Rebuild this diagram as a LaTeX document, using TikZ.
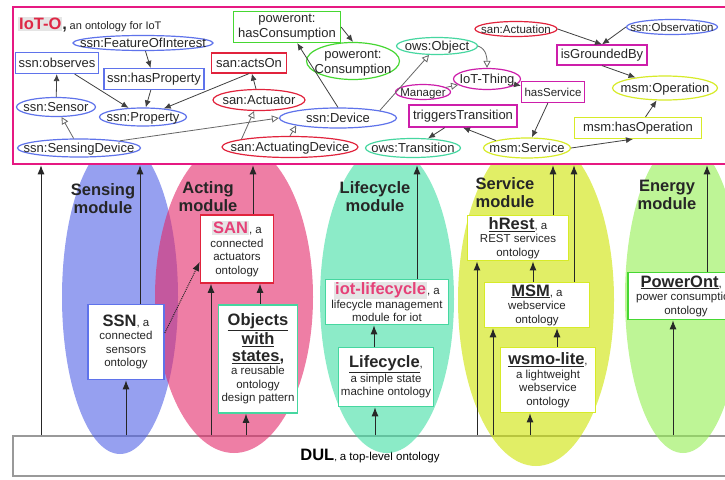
\documentclass[tikz,border=0pt]{standalone}
\usepackage{fontspec}
\setmainfont{Liberation Sans}
\usetikzlibrary{arrows.meta}
\usetikzlibrary{shapes.geometric}
\definecolor{ssnc}{RGB}{95,115,235}
\definecolor{sanc}{RGB}{225,35,60}
\definecolor{pwrc}{RGB}{70,215,50}
\definecolor{owsc}{RGB}{70,215,160}
\definecolor{iotc}{RGB}{205,30,170}
\definecolor{msmc}{RGB}{215,235,40}
\definecolor{framec}{RGB}{230,25,130}
\definecolor{titlec}{RGB}{222,40,70}
\definecolor{namec}{RGB}{230,65,120}
\definecolor{sensingc}{RGB}{80,97,230}
\definecolor{actingc}{RGB}{227,40,105}
\definecolor{lifec}{RGB}{63,222,163}
\definecolor{servc}{RGB}{205,227,0}
\definecolor{energyc}{RGB}{147,238,80}
\newcommand\elltext[1]{\makebox[0pt]{\raisebox{-.35em}[0pt][0pt]{#1}}}
\newcommand\bigname[1]{{\fontsize{16.5}{18}\selectfont\bfseries #1}}
\newcommand\ulname[1]{\underline{\bigname{#1}}}
\newcommand\hiname[2]{{\setlength\fboxsep{1pt}\colorbox{black!10}{\textcolor{#1}{\bigname{#2}}}}}
\begin{document}
\begin{tikzpicture}[x=1pt,y=-1pt,
	enode/.style={ellipse,draw,line width=1.2pt,fill=white,inner sep=0pt,minimum height=19pt,font=\fontsize{13}{15}\selectfont,text=black!85},
	rnode/.style={rectangle,draw,line width=1.2pt,fill=white,inner xsep=3pt,inner ysep=2pt,minimum height=21pt,font=\fontsize{13}{15}\selectfont,text=black!85},
	smallfont/.style={font=\fontsize{11.5}{13}\selectfont},
	has/.style={-{Latex[length=7pt,width=6pt]},draw=black!75,line width=0.8pt},
	isa/.style={-{Triangle[open,length=7pt,width=7pt]},draw=black!60,line width=0.8pt},
	up/.style={-{Latex[length=9pt,width=7pt]},draw=black!85,line width=1pt},
	onto/.style={draw,fill=white,line width=1.6pt,align=center,inner sep=2pt,font=\fontsize{11.5}{13.5}\selectfont,text=black!85},
	module/.style={align=center,font=\fontsize{16.5}{18}\selectfont\bfseries,text=black!85}]
	\useasboundingbox (0,0) rectangle (725,479);
	\clip (0,0) rectangle (725,479);
	
	\node[draw=black!40,fill=white,line width=1.5pt,minimum width=714pt,minimum height=40pt,inner sep=0pt] (dul) at (370,456) {\bigname{DUL}, {\fontsize{11.5}{13}\selectfont a top-level ontology}};
	
	\fill[sensingc,opacity=.6] (120,297) ellipse [x radius=58pt,y radius=157pt];
	\fill[actingc,opacity=.6] (234,297) ellipse [x radius=79pt,y radius=156pt];
	\fill[lifec,opacity=.6] (387,299) ellipse [x radius=67pt,y radius=154pt];
	\fill[servc,opacity=.6] (536,300) ellipse [x radius=78pt,y radius=166pt];
	\fill[energyc,opacity=.6] (683,297) ellipse [x radius=58pt,y radius=156pt];
	
	\node[draw=framec,fill=white,line width=2.5pt,minimum width=714pt,minimum height=157pt,inner sep=0pt] (ioto) at (370,85.5) {};
	\node[anchor=west,inner sep=0pt,text=black!85] (title) at (18,25) {\hiname{titlec}{IoT-O}\bigname{,} {\fontsize{11}{13}\selectfont an ontology for IoT}};
	
	\node[enode,draw=ssnc,minimum width=140pt,minimum height=15pt] (foi) at (143,43) {\elltext{ssn:FeatureOfInterest}};
	\node[rnode,draw=ssnc,minimum width=83pt] (observes) at (57,63) {ssn:observes};
	\node[rnode,draw=ssnc,minimum width=99pt] (hasprop) at (154,79) {ssn:hasProperty};
	\node[enode,draw=ssnc,minimum width=79pt] (sensor) at (56,107) {\elltext{ssn:Sensor}};
	\node[enode,draw=ssnc,minimum width=87pt,minimum height=18pt] (prop) at (143,117) {\elltext{ssn:Property}};
	\node[enode,draw=ssnc,minimum width=123pt,minimum height=18pt] (sdev) at (79,148) {\elltext{ssn:SensingDevice}};
	\node[rnode,draw=pwrc,minimum width=107pt,minimum height=31pt,align=center,inner ysep=1pt] (hascons) at (287,27) {poweront:\\hasConsumption};
	\node[enode,draw=pwrc,minimum width=93pt,minimum height=37pt] (cons) at (353,61) {\elltext{\begin{tabular}{@{}c@{}}poweront:\\Consumption\end{tabular}}};
	\node[rnode,draw=sanc,minimum width=75pt,minimum height=20pt] (actson) at (249,63) {san:actsOn};
	\node[enode,draw=sanc,minimum width=92pt,minimum height=21pt] (actuator) at (259,100) {\elltext{san:Actuator}};
	\node[enode,draw=ssnc,minimum width=117pt,minimum height=20pt] (device) at (338,118) {\elltext{ssn:Device}};
	\node[enode,draw=sanc,minimum width=136pt,minimum height=21pt] (adev) at (290,147) {\elltext{san:ActuatingDevice}};
	\node[enode,draw=owsc,minimum width=81pt,minimum height=17pt] (owsobj) at (437,46) {\elltext{ows:Object}};
	\node[enode,draw=iotc,smallfont,minimum width=55pt,minimum height=15pt] (manager) at (423,92) {\elltext{Manager}};
	\node[enode,draw=iotc,minimum width=67pt,minimum height=21pt] (iot) at (487,79) {\elltext{IoT-Thing}};
	\node[rnode,draw=iotc,minimum width=108pt,minimum height=22pt] (trig) at (463,116) {triggersTransition};
	\node[enode,draw=owsc,minimum width=95pt] (owstr) at (413,148) {\elltext{ows:Transition}};
	\node[rnode,draw=iotc,smallfont,minimum width=60pt] (hasserv) at (553,92) {hasService};
	\node[enode,draw=sanc,smallfont,minimum width=82pt,minimum height=15pt] (actuation) at (516,29) {\elltext{san:Actuation}};
	\node[enode,draw=ssnc,smallfont,minimum width=91pt,minimum height=15pt] (obs) at (672,27) {\elltext{ssn:Observation}};
	\node[rnode,draw=iotc,minimum width=90pt,minimum height=20pt] (isgr) at (602,55) {isGroundedBy};
	\node[enode,draw=msmc,minimum width=105pt,minimum height=24pt] (op) at (665,88) {\elltext{msm:Operation}};
	\node[rnode,draw=msmc,minimum width=127pt] (hasop) at (638,128) {msm:hasOperation};
	\node[enode,draw=msmc,minimum width=87pt,minimum height=20pt] (service) at (527,148) {\elltext{msm:Service}};
	
	\draw[has] (foi) -- (hasprop);
	\draw[has] (hasprop) -- (prop);
	\draw[has] (observes) -- (prop);
	\draw[has] (sensor) -- (observes);
	\draw[isa] (sdev) -- (sensor);
	\draw[isa] (sdev.10) -- (device.west);
	\draw[has] (actuator) -- (actson);
	\draw[has] (actson.south) -- (prop);
	\draw[isa] (adev.north west) -- (actuator);
	\draw[isa] (adev.north) -- (device.south west);
	\draw[has] (device.north) -- (hascons);
	\draw[has] (hascons.east) -- (cons.north);
	\draw[isa] (device.north east) -- (owsobj);
	\draw[isa] (owsobj.east) to[out=-20,in=90] (iot.north);
	\draw[isa] (manager) -- (iot);
	\draw[has] (iot) -- (hasserv);
	\draw[has] (hasserv) -- (service);
	\draw[has] (service.north west) -- (trig.south);
	\draw[has] (trig) -- (owstr);
	\draw[has] (service.east) -- ([xshift=-5pt]hasop.south);
	\draw[has] (hasop) -- (op);
	\draw[has] (actuation.east) -- (isgr.north);
	\draw[has] (obs.west) -- (isgr.north);
	\draw[has] (isgr.south) -- (op);
	
	\node[module] (sensing) at (103,199) {Sensing\\module};
	\node[module] (acting) at (208,197) {Acting\\module};
	\node[module] (lifecycle) at (375,197) {Lifecycle\\module};
	\node[module] (servmod) at (505,193) {Service\\module};
	\node[module] (energy) at (667,195) {Energy\\module};
	
	\node[onto,draw=ssnc,minimum width=76pt,minimum height=75pt] (ssn) at (126,342) {\bigname{SSN}, a\\connected\\sensors\\ontology};
	\node[onto,draw=sanc,minimum width=73pt,minimum height=68pt] (san) at (237,249) {\hiname{namec}{SAN}, a\\connected\\actuators\\ontology};
	\node[onto,draw=owsc,minimum width=79pt,minimum height=108pt] (objs) at (258,359) {\ulname{Objects}\\[1pt]\ulname{with}\\[3pt]\ulname{states}\bigname{,}\\a reusable\\ontology\\design pattern};
	\node[onto,draw=owsc,minimum width=123pt,minimum height=45pt] (iotlc) at (387,302) {\hiname{namec}{iot-lifecycle}, a\\lifecycle management\\module for iot};
	\node[onto,draw=owsc,minimum width=95pt,minimum height=59pt] (lc) at (386,377) {\ulname{Lifecycle},\\a simple state\\machine ontology};
	\node[onto,draw=msmc,minimum width=101pt,minimum height=43pt] (hrest) at (518,238) {\ulname{hRest}, a\\REST services\\ontology};
	\node[onto,draw=msmc,minimum width=105pt,minimum height=44pt] (msm) at (537,305) {\ulname{MSM}, a\\webservice\\ontology};
	\node[onto,draw=msmc,minimum width=95pt,minimum height=65pt] (wsmo) at (548,380) {\ulname{wsmo-lite},\\a lightweight\\webservice\\ontology};
	\node[onto,draw=pwrc,minimum width=116pt,minimum height=47pt] (pwr) at (686,296) {\ulname{PowerOnt}, a\\power consumption\\ontology};
	
	\draw[up] (dul.north -| 41,0) -- (ioto.south -| 41,0);
	\draw[up] (ssn.north -| 140,0) -- (ioto.south -| 140,0);
	\draw[up] (dul.north -| ssn.south) -- (ssn.south);
	\draw[up,densely dotted] ([yshift=9pt]ssn.east) -- ([yshift=-13pt]san.west);
	\draw[up] (san.north -| 253,0) -- (ioto.south -| 253,0);
	\draw[up] (dul.north -| 211,0) -- (san.south -| 211,0);
	\draw[up] (objs.north -| 260,0) -- (san.south -| 260,0);
	\draw[up] (dul.north -| 246,0) -- (objs.south -| 246,0);
	\draw[up] (iotlc.north -| 417,0) -- (ioto.south -| 417,0);
	\draw[up] (lc.north -| 374,0) -- (iotlc.south -| 374,0);
	\draw[up] (dul.north -| 375,0) -- (lc.south -| 375,0);
	\draw[up] (hrest.north -| 553,0) -- (ioto.south -| 553,0);
	\draw[up] (msm.north -| 574,0) -- (ioto.south -| 574,0);
	\draw[up] (dul.north -| 477,0) -- (hrest.south -| 477,0);
	\draw[up] (dul.north -| 493,0) -- (msm.south -| 493,0);
	\draw[up] (msm.north -| 533,0) -- (hrest.south -| 533,0);
	\draw[up] (wsmo.north -| 557,0) -- (msm.south -| 557,0);
	\draw[up] (dul.north -| 530,0) -- (wsmo.south -| 530,0);
	\draw[up] (pwr.north -| 707,0) -- (ioto.south -| 707,0);
	\draw[up] (dul.north -| 673,0) -- (pwr.south -| 673,0);
\end{tikzpicture}
\end{document}
